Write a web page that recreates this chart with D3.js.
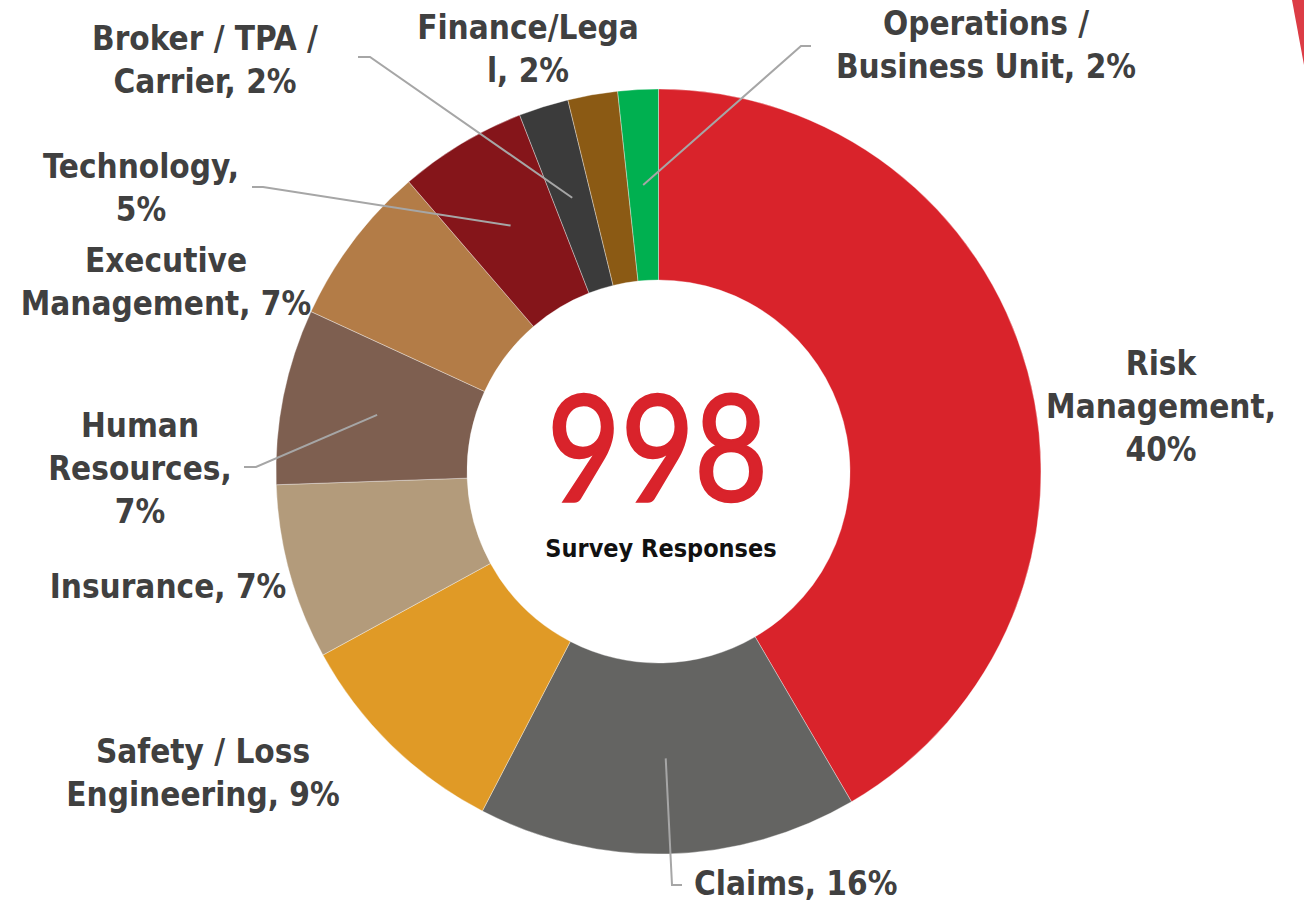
<!DOCTYPE html>
<html>
<head>
<meta charset="utf-8">
<script src="https://cdn.jsdelivr.net/npm/d3@7"></script>
<style>
  html, body { margin: 0; padding: 0; background: #fff; }
  svg { display: block; }
</style>
</head>
<body>
<svg id="chart" width="1304" height="905"></svg>
<script>
// ---- Data ----
const categories = ["Risk Management", "Claims", "Safety / Loss Engineering", "Insurance",
  "Human Resources", "Executive Management", "Technology", "Broker / TPA / Carrier",
  "Finance/Legal", "Operations / Business Unit"];
const responses = [415, 160, 94, 74, 74, 68, 54, 21, 21, 17];
const percentLabels = ["40%", "16%", "9%", "7%", "7%", "7%", "5%", "2%", "2%", "2%"];
const labelLines = [
  ["Risk", "Management,", "40%"],
  ["Claims, 16%"],
  ["Safety / Loss", "Engineering, 9%"],
  ["Insurance, 7%"],
  ["Human", "Resources,", "7%"],
  ["Executive", "Management, 7%"],
  ["Technology,", "5%"],
  ["Broker / TPA /", "Carrier, 2%"],
  ["Finance/Lega", "l, 2%"],
  ["Operations /", "Business Unit, 2%"]
];
const totalResponses = "998";
const centerCaption = "Survey Responses";

// ---- Styling / layout ----
const colors = ["#d9232b", "#646462", "#e09a26", "#b39b7b", "#7e5f50", "#b37c47",
  "#85151a", "#3b3b3b", "#8b5a14", "#00b050"];
const cx = 658.5, cy = 471.5, outerR = 382.5, innerR = 191.5;
// label anchor (first baseline) and optional leader elbow [textSideX, elbowX, y]
const labelLayout = [
  { x: 1161, y: 375, anchor: "middle", leader: null },
  { x: 694, y: 895, anchor: "start", leader: [682, 672, 885] },
  { x: 203, y: 763, anchor: "middle", leader: null },
  { x: 168, y: 598, anchor: "middle", leader: null },
  { x: 140, y: 437, anchor: "middle", leader: [244, 256, 467] },
  { x: 166, y: 272, anchor: "middle", leader: null },
  { x: 141, y: 178, anchor: "middle", leader: [252, 263, 187] },
  { x: 205, y: 50, anchor: "middle", leader: [358, 370, 57] },
  { x: 528, y: 39, anchor: "middle", leader: null },
  { x: 986, y: 35, anchor: "middle", leader: [811, 801, 46] }
];

const svg = d3.select("#chart");

// decorative corner triangle
svg.append("polygon")
  .attr("points", "1292,0 1304,0 1304,65")
  .attr("fill", "#dc3c45");

const pie = d3.pie().sort(null).value(d => d);
const arcs = pie(responses);
const arc = d3.arc().innerRadius(innerR).outerRadius(outerR);

const g = svg.append("g").attr("transform", `translate(${cx},${cy})`);
g.selectAll("path.slice")
  .data(arcs)
  .join("path")
  .attr("class", "slice")
  .attr("d", arc)
  .attr("fill", (d, i) => colors[i])
  .attr("stroke", "#ffffff")
  .attr("stroke-opacity", 0.6)
  .attr("stroke-width", 0.6);

// leader lines
arcs.forEach((d, i) => {
  const L = labelLayout[i].leader;
  if (!L) return;
  const c = arc.centroid(d);
  const pts = [[L[0], L[2]], [L[1], L[2]], [cx + c[0], cy + c[1]]];
  svg.append("path")
    .attr("d", d3.line()(pts))
    .attr("fill", "none")
    .attr("stroke", "#a6a6a6")
    .attr("stroke-width", 2);
});

// labels
const labelFont = "'DejaVu Sans Condensed', 'DejaVu Sans', sans-serif";
labelLines.forEach((lines, i) => {
  const lay = labelLayout[i];
  const t = svg.append("text")
    .attr("x", lay.x).attr("y", lay.y)
    .attr("text-anchor", lay.anchor)
    .attr("font-family", labelFont)
    .attr("font-weight", "bold")
    .attr("font-size", 33)
    .attr("fill", "#404040");
  lines.forEach((ln, k) => {
    t.append("tspan").attr("x", lay.x).attr("dy", k === 0 ? 0 : 43).text(ln);
  });
});

// center text
svg.append("text")
  .attr("x", 657.5).attr("y", 501)
  .attr("text-anchor", "middle")
  .attr("font-family", "Lato, 'Open Sans', sans-serif")
  .attr("font-size", 148)
  .attr("fill", "#d9232b")
  .attr("stroke", "#d9232b")
  .attr("stroke-width", 2.5)
  .attr("textLength", 221)
  .attr("lengthAdjust", "spacingAndGlyphs")
  .text(totalResponses);

svg.append("text")
  .attr("x", 661).attr("y", 557)
  .attr("text-anchor", "middle")
  .attr("font-family", labelFont)
  .attr("font-weight", "bold")
  .attr("font-size", 25)
  .attr("fill", "#111111")
  .text(centerCaption);
</script>
</body>
</html>
